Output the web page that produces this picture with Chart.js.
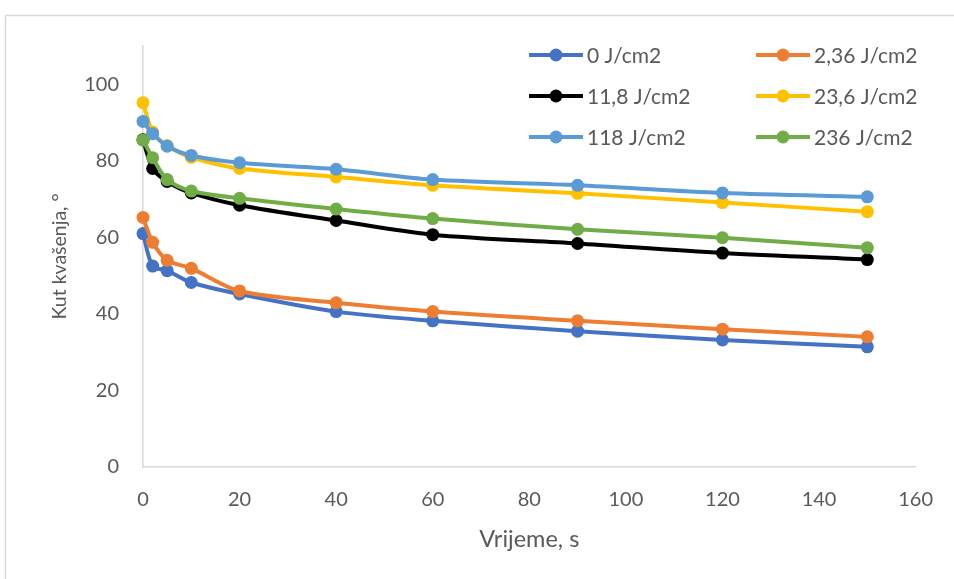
<!DOCTYPE html>
<html>
<head>
<meta charset="utf-8">
<script src="https://cdn.jsdelivr.net/npm/chart.js@4/dist/chart.umd.min.js"></script>
<style>
  html, body { margin: 0; padding: 0; background: #fff; }
  #wrap { position: relative; width: 954px; height: 579px; }
</style>
</head>
<body>
<div id="wrap"><canvas id="myChart"></canvas></div>
<script>
// Time points on the x-axis (s)
var vrijeme = [0, 2, 5, 10, 20, 40, 60, 90, 120, 150];

// Contact angle for each fluence
var j0    = [61.0, 52.5, 51.3, 48.2, 45.2, 40.6, 38.2, 35.5, 33.2, 31.4];
var j236  = [65.2, 58.7, 54.0, 51.9, 46.0, 42.9, 40.6, 38.2, 36.0, 34.0];
var j118  = [85.5, 78.0, 74.6, 71.6, 68.4, 64.4, 60.7, 58.4, 55.9, 54.2];
var j2360 = [95.2, 87.5, 84.0, 80.9, 78.0, 75.8, 73.6, 71.5, 69.1, 66.7];
var j1180 = [90.3, 87.1, 83.8, 81.4, 79.5, 77.8, 75.1, 73.6, 71.6, 70.6];
var j2360b = [85.4, 80.8, 75.1, 72.1, 70.2, 67.4, 64.9, 62.1, 59.9, 57.3];

var labels = ["0 J/cm2", "2,36 J/cm2", "11,8 J/cm2", "23,6 J/cm2", "118 J/cm2", "236 J/cm2"];
var colors = ["#4472C4", "#ED7D31", "#000000", "#FFC000", "#5B9BD5", "#70AD47"];
var series = [j0, j236, j118, j2360, j1180, j2360b];

var FONT = "Lato, 'Open Sans', sans-serif";
var TXT = "#595959";

function points(arr) {
  return arr.map(function (v, i) { return { x: vrijeme[i], y: v }; });
}

var datasets = series.map(function (s, i) {
  return {
    label: labels[i],
    data: points(s),
    borderColor: colors[i],
    backgroundColor: colors[i],
    borderWidth: 4,
    pointRadius: 6.5,
    pointBorderWidth: 0,
    tension: 0.3,
    fill: false,
    clip: false,
    order: series.length - i   // later series on top, like Excel
  };
});

// frame around the chart
var framePlugin = {
  id: 'frame',
  beforeDraw: function (chart) {
    var ctx = chart.ctx;
    ctx.save();
    ctx.strokeStyle = "#d9d9d9";
    ctx.lineWidth = 1.5;
    ctx.beginPath();
    ctx.moveTo(5.5, chart.height);
    ctx.lineTo(5.5, 15.5);
    ctx.lineTo(chart.width, 15.5);
    ctx.stroke();
    ctx.restore();
  }
};

// two-column legend in the top right corner
var legendPlugin = {
  id: 'twoColLegend',
  afterDraw: function (chart) {
    var ctx = chart.ctx;
    var colX = [529, 756];
    var rowY = [55, 96, 137];
    ctx.save();
    ctx.font = "21px " + FONT;
    ctx.textBaseline = "middle";
    ctx.textAlign = "left";
    chart.data.datasets.forEach(function (ds, i) {
      var x = colX[i % 2];
      var y = rowY[Math.floor(i / 2)];
      ctx.strokeStyle = ds.borderColor;
      ctx.lineWidth = 4;
      ctx.beginPath();
      ctx.moveTo(x, y);
      ctx.lineTo(x + 54, y);
      ctx.stroke();
      ctx.fillStyle = ds.borderColor;
      ctx.beginPath();
      ctx.arc(x + 27, y, 6.5, 0, Math.PI * 2);
      ctx.fill();
      ctx.fillStyle = TXT;
      ctx.fillText(ds.label, x + 58, y + 1);
    });
    ctx.restore();
  }
};

var ctx = document.getElementById("myChart");
var myChart = new Chart(ctx, {
  type: 'line',
  data: { datasets: datasets },
  plugins: [framePlugin, legendPlugin],
  options: {
    responsive: true,
    maintainAspectRatio: false,
    animation: false,
    layout: { padding: { left: 0, right: 34, top: 46, bottom: 0 } },
    plugins: {
      legend: { display: false },
      tooltip: { enabled: false }
    },
    scales: {
      x: {
        type: 'linear',
        min: 0,
        max: 160,
        ticks: { stepSize: 20, color: TXT, font: { family: FONT, size: 20 }, padding: 21, maxRotation: 0 },
        grid: { display: false, drawTicks: false },
        border: { display: true, color: "#d9d9d9", width: 1.5 },
        title: { display: true, text: "Vrijeme, s", color: TXT, font: { family: FONT, size: 23.5 }, padding: { top: 0, bottom: 25 } },
        afterFit: function (scale) { scale.height = 112; }
      },
      y: {
        type: 'linear',
        min: 0,
        max: 110,
        ticks: { stepSize: 20, includeBounds: false, color: TXT, font: { family: FONT, size: 20 }, padding: 24 },
        grid: { display: false, drawTicks: false },
        border: { display: true, color: "#d9d9d9", width: 1.5 },
        title: { display: true, text: "Kut kvašenja, °", color: TXT, font: { family: FONT, size: 19.5 }, padding: { top: 48, bottom: 0 } },
        afterFit: function (scale) { scale.width = 143; }
      }
    }
  }
});
</script>
</body>
</html>
